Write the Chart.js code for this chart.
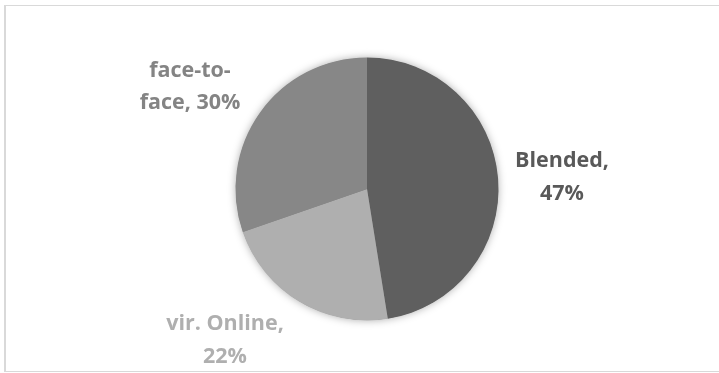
<!DOCTYPE html>
<html>
<head>
<meta charset="utf-8">
<script src="https://cdn.jsdelivr.net/npm/chart.js@4/dist/chart.umd.min.js"></script>
<style>
  html, body { margin: 0; padding: 0; background: #ffffff; overflow: hidden; }
  #wrap { position: absolute; left: 0; top: 0; width: 719px; height: 373px; }
  #frame { position: absolute; left: 4px; top: 5px; width: 730px; height: 365px;
           border-top: 1px solid #d9d9d9; border-bottom: 1px solid #d9d9d9; border-left: 2px solid #d9d9d9; }
  canvas { position: absolute; left: 0; top: 0; }
</style>
</head>
<body>
<div id="wrap">
  <div id="frame"></div>
  <canvas id="c" width="719" height="373"></canvas>
</div>
<script>
const categories = ['Blended', 'vir. Online', 'face-to-face'];
const values = [47, 22, 30];
const labelLines = [['Blended,', '47%'], ['vir. Online,', '22%'], ['face-to-', 'face, 30%']];

const sliceColors = ['#5f5f5f', '#afafaf', '#878787'];
const labelColors = ['#595959', '#afafaf', '#848484'];
// label anchor offsets (px) from pie centre: x centre, first-line baseline
const labelOffsets = [[195, -22], [-142, 141], [-177, -112.5]];

const shadowPlugin = {
  id: 'pieShadow',
  beforeDatasetsDraw(chart) {
    const arc = chart.getDatasetMeta(0).data[0];
    if (!arc) return;
    const ctx = chart.ctx;
    ctx.save();
    ctx.shadowColor = 'rgba(0,0,0,0.35)';
    ctx.shadowBlur = 9;
    ctx.fillStyle = '#808080';
    ctx.beginPath();
    ctx.arc(arc.x, arc.y, arc.outerRadius - 0.5, 0, Math.PI * 2);
    ctx.fill();
    ctx.restore();
  }
};

const labelPlugin = {
  id: 'sliceLabels',
  afterDatasetsDraw(chart) {
    const ctx = chart.ctx;
    const meta = chart.getDatasetMeta(0);
    ctx.save();
    ctx.font = 'bold 21.5px "Open Sans", Lato, sans-serif';
    ctx.textAlign = 'center';
    ctx.textBaseline = 'alphabetic';
    meta.data.forEach((arc, i) => {
      const lines = labelLines[i];
      const [dx, dy] = labelOffsets[i];
      ctx.fillStyle = labelColors[i];
      lines.forEach((t, j) => {
        ctx.fillText(t, arc.x + dx, arc.y + dy + j * 32.5);
      });
    });
    ctx.restore();
  }
};

new Chart(document.getElementById('c'), {
  type: 'pie',
  data: {
    labels: categories,
    datasets: [{
      data: values,
      backgroundColor: sliceColors,
      borderWidth: 0
    }]
  },
  options: {
    responsive: false,
    animation: false,
    layout: { padding: { top: 57.5, bottom: 52.5, left: 100, right: 85 } },
    plugins: { legend: { display: false }, tooltip: { enabled: false } }
  },
  plugins: [shadowPlugin, labelPlugin]
});
</script>
</body>
</html>
